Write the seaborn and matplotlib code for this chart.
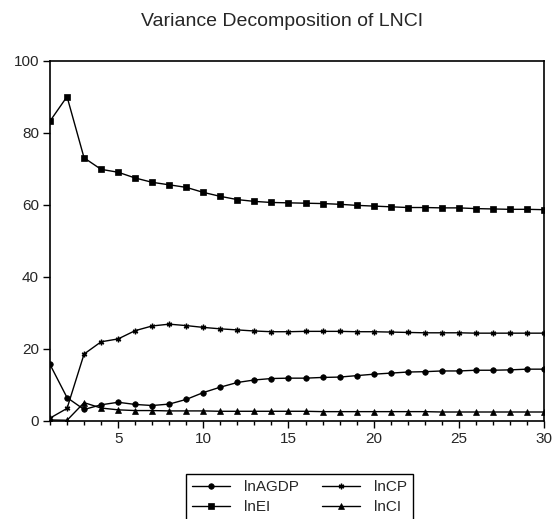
import matplotlib
matplotlib.use("Agg")
import matplotlib.pyplot as plt
from matplotlib.ticker import MultipleLocator
import seaborn as sns
import pandas as pd

periods = list(range(1, 31))
lnAGDP = [15.7, 6.5, 3.2, 4.5, 5.2, 4.6, 4.3, 4.7, 6.0, 7.9,
          9.4, 10.7, 11.4, 11.8, 11.9, 11.9, 12.1, 12.2, 12.6, 13.0,
          13.3, 13.6, 13.7, 13.9, 13.9, 14.1, 14.1, 14.2, 14.4, 14.4]
lnEI = [83.3, 90.1, 73.1, 69.9, 69.1, 67.5, 66.3, 65.6, 64.9, 63.5,
        62.4, 61.5, 61.0, 60.7, 60.6, 60.5, 60.4, 60.2, 59.9, 59.7,
        59.5, 59.3, 59.3, 59.2, 59.2, 59.0, 58.9, 58.8, 58.8, 58.7]
lnCP = [0.8, 3.5, 18.6, 22.0, 22.8, 25.1, 26.4, 26.9, 26.5, 26.0,
        25.6, 25.3, 25.0, 24.8, 24.8, 24.9, 24.9, 24.9, 24.8, 24.8,
        24.7, 24.6, 24.5, 24.5, 24.5, 24.4, 24.4, 24.4, 24.4, 24.4]
lnCI = [0.3, 0.2, 5.1, 3.6, 3.1, 2.9, 2.9, 2.8, 2.8, 2.8,
        2.7, 2.7, 2.7, 2.7, 2.7, 2.7, 2.6, 2.6, 2.6, 2.6,
        2.6, 2.6, 2.6, 2.5, 2.5, 2.5, 2.5, 2.5, 2.5, 2.5]

series = {"lnAGDP": lnAGDP, "lnEI": lnEI, "lnCP": lnCP, "lnCI": lnCI}
markers = {"lnAGDP": "o", "lnEI": "s", "lnCP": (6, 2, 0), "lnCI": "^"}
sizes = {"lnAGDP": 5, "lnEI": 6, "lnCP": 8, "lnCI": 6.5}

df = pd.concat(
    [pd.DataFrame({"Period": periods, "Value": v, "Series": k}) for k, v in series.items()]
)

sns.set_style("white")
plt.rcParams["font.family"] = ["Liberation Sans", "DejaVu Sans"]

fig = plt.figure(figsize=(5.53, 5.19), dpi=100)
ax = fig.add_axes([50 / 553, 1 - 421 / 519, 494 / 553, 360 / 519])

for name in series:
    sns.lineplot(
        data=df[df["Series"] == name], x="Period", y="Value",
        color="black", linewidth=1.0, marker=markers[name],
        markersize=sizes[name], markeredgecolor="black",
        markeredgewidth=1.0 if name == "lnCP" else 0.5,
        label=name, ax=ax,
    )

ax.set_xlim(1, 30)
ax.set_ylim(0, 100)
ax.set_yticks([0, 20, 40, 60, 80, 100])
ax.set_xticks([5, 10, 15, 20, 25, 30])
ax.xaxis.set_minor_locator(MultipleLocator(1))
ax.set_xlabel("")
ax.set_ylabel("")
ax.tick_params(axis="both", which="major", direction="out", length=5,
               width=1, color="black", labelsize=11, pad=3, bottom=True, left=True)
ax.tick_params(axis="x", which="minor", direction="out", length=3,
               width=1, color="black", bottom=True)
for s in ax.spines.values():
    s.set_color("black")
    s.set_linewidth(1.2)

fig.text(282 / 553, 1 - 22 / 519, "Variance Decomposition of LNCI",
         ha="center", va="center", fontsize=14)

h, l = ax.get_legend_handles_labels()
order = ["lnAGDP", "lnEI", "lnCP", "lnCI"]
hl = dict(zip(l, h))
for hd in hl.values():
    hd.set_markersize(4)
ax.legend(
    [hl[o] for o in order], order, ncol=2, loc="upper left",
    bbox_to_anchor=(186 / 553, 1 - 474 / 519), bbox_transform=fig.transFigure,
    borderaxespad=0, frameon=True, fancybox=False, framealpha=1, edgecolor="black",
    fontsize=11, handlelength=2.5, handletextpad=0.9, columnspacing=1.5,
    borderpad=0.4, labelspacing=0.4,
)
ax.get_legend().get_frame().set_linewidth(1.0)

fig.savefig("out.png", dpi=100)
